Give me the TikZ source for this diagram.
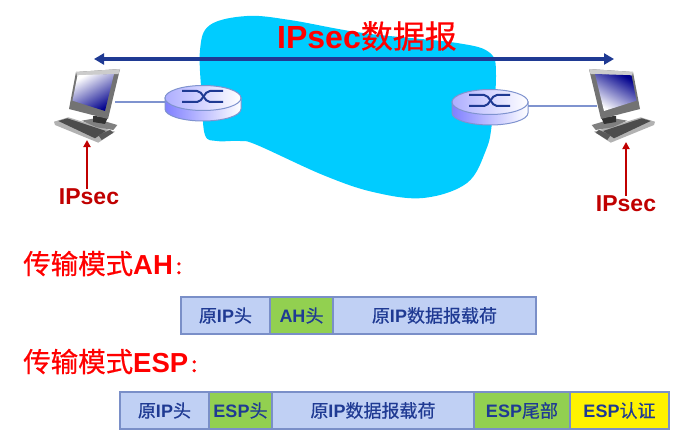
\documentclass[tikz,border=0pt]{standalone}
\usepackage{fontspec}
\setmainfont{Liberation Sans}[BoldFont={Liberation Sans Bold}]
\newfontfamily\cjk{Noto Sans CJK SC}[FakeBold=0.5]
\newfontfamily\cjkheavy{Noto Sans CJK SC}[FakeBold=3]
\newcommand{\zh}[1]{{\mdseries\cjk #1}}
\newcommand{\fsize}[1]{\fontsize{#1}{#1}\selectfont}
\newcommand{\smallcolon}{\hspace{1.5pt}{\fsize{18}\mdseries\cjkheavy ：}}
\usetikzlibrary{arrows.meta}

\definecolor{cloudblue}{HTML}{00CCFF}
\definecolor{navy}{HTML}{1F3A93}
\definecolor{linkblue}{HTML}{7F93CF}
\definecolor{darkred}{HTML}{C00000}
\definecolor{cellblue}{HTML}{C0D0F4}
\definecolor{cellline}{HTML}{7A8FC8}
\definecolor{cellgreen}{HTML}{92D050}

\tikzset{
    cell/.style={draw=cellline,line width=1.5pt,fill=cellblue,text=navy,font=\fsize{18}\bfseries,
        minimum height=37pt,inner sep=0pt,outer sep=0pt},
    greencell/.style={cell,fill=cellgreen},
    yellowcell/.style={cell,fill=yellow},
    redlabel/.style={text=darkred,font=\fsize{23}\bfseries,inner sep=0pt},
    modelabel/.style={text=red,font=\fsize{27.5}\bfseries,inner sep=0pt,anchor=base west},
    pics/router/.style={code={
        \coordinate (-west) at (-38,4);
        \coordinate (-east) at (38,4);
        \draw[draw=linkblue,line width=1pt,left color=blue!50!white,right color=white]
            (-38,0) -- (-38,11) arc[start angle=180,end angle=360,x radius=38,y radius=-12] -- (38,0) -- cycle;
        \draw[draw=linkblue,line width=1pt,left color=blue!32!white,right color=white]
            (0,0) ellipse[x radius=38,y radius=12.5];
        \draw[navy,line width=2pt] (-21,-7) -- (-6,-7) .. controls (0,-7) and (1,4) .. (7,4) -- (20,4);
        \draw[navy,line width=2pt] (-21,4) -- (-6,4) .. controls (0,4) and (1,-7) .. (7,-7) -- (20,-7);
    }},
    pics/desktop/.style={code={
        % keyboard
        \fill[black!30!white] (-33,16.7) -- (-18.7,12.3) -- (28,26.7) -- (11.3,37.7) -- (-32,20) -- cycle;
        \fill[black!70!white] (-28.7,16) -- (-19.7,13.3) -- (19,26) -- (8,33.3) -- cycle;
        \fill[black!65!white] (11.3,30) -- (23,25) -- (26.3,27.7) -- (14.7,35) -- cycle;
        % stand
        \fill[black!50!white] (-5.3,15.7) -- (8,13.3) -- (30.3,20) -- (26.3,25) -- (9.7,22.3) -- cycle;
        \fill[black!80!white] (6,11) -- (21,12) -- (18,19) -- (6,17) -- cycle;
        % monitor
        \fill[black!55!white] (-11,-33) -- (33,-36) -- (21,14) -- (-18,4) -- cycle;
        \fill[black!20!white] (-11,-33) -- (33,-36) -- (31.5,-31) -- (-10,-29) -- cycle;
        \shade[left color=white,middle color=blue!12!white,right color=blue!55!black,shading angle=#1]
            (-9.5,-29.7) -- (27,-31) -- (18,6) -- (-14.5,-4.3) -- cycle;
    }}
}

\begin{document}
\begin{tikzpicture}[x=1pt,y=-1pt]
    \useasboundingbox (0,0) rectangle (689,436);

    \coordinate (arrowL) at (94,59);
    \coordinate (arrowR) at (614,59);
    \coordinate (portL) at (115,102);
    \coordinate (portR) at (597,106);
    \coordinate (footL) at (87,140);
    \coordinate (footR) at (626,142);

    % cloud
    \fill[cloudblue] plot[smooth cycle,tension=0.6] coordinates {
        (200,50) (210,25) (247,16) (290,20) (363,33) (457,43) (490,53) (496,75)
        (492,123) (486,150) (467,183) (423,198) (373,192) (323,175) (257,145)
        (240,141) (217,141) (205,135) (202,100)};

    \pic (routerL) at (203,98) {router};
    \pic (routerR) at (490,102) {router};
    \pic (desktopL) at (87,105) {desktop=30};
    \pic[xscale=-1] (desktopR) at (622,105) {desktop=150};

    \draw[linkblue,line width=1.2pt] (portL) -- (routerL-west);
    \draw[linkblue,line width=1.2pt] (routerR-east) -- (portR);

    \draw[navy,line width=3.4pt,{Stealth[length=10pt,width=11pt,inset=0pt]}-{Stealth[length=10pt,width=11pt,inset=0pt]}] (arrowL) -- (arrowR);
    \node[text=red,font=\fsize{32}\bfseries,inner sep=0pt] (title) at (367,36) {IPsec\zh{数据报}};

    \node[redlabel] (ipsecL) at (89,197) {IPsec};
    \node[redlabel] (ipsecR) at (626,204) {IPsec};
    \draw[darkred,line width=2.2pt,-{Stealth[length=7pt,width=7pt,inset=0pt]}] (ipsecL.north -| footL) -- (footL);
    \draw[darkred,line width=2.2pt,-{Stealth[length=7pt,width=7pt,inset=0pt]}] (ipsecR.north -| footR) -- (footR);

    \node[modelabel] (modeAH) at (23,274) {\zh{传输模式}AH\smallcolon};
    \node[modelabel] (modeESP) at (23,372) {\zh{传输模式}ESP\smallcolon};

    % AH packet
    \node[cell,minimum width=89pt] (ahIP) at (225.5,315.5) {\zh{原}IP\zh{头}};
    \node[greencell,minimum width=63pt] (ahHead) at (301.5,315.5) {AH\zh{头}};
    \node[cell,minimum width=203pt] (ahData) at (434.5,315.5) {\zh{原}IP\zh{数据报载荷}};

    % ESP packet
    \node[cell,minimum width=89pt] (espIP) at (164.5,410.5) {\zh{原}IP\zh{头}};
    \node[greencell,minimum width=63pt] (espHead) at (240.5,410.5) {ESP\zh{头}};
    \node[cell,minimum width=202pt] (espData) at (373,410.5) {\zh{原}IP\zh{数据报载荷}};
    \node[greencell,minimum width=96pt] (espTail) at (522,410.5) {ESP\zh{尾部}};
    \node[yellowcell,minimum width=99pt] (espAuth) at (619.5,410.5) {ESP\zh{认证}};
\end{tikzpicture}
\end{document}
